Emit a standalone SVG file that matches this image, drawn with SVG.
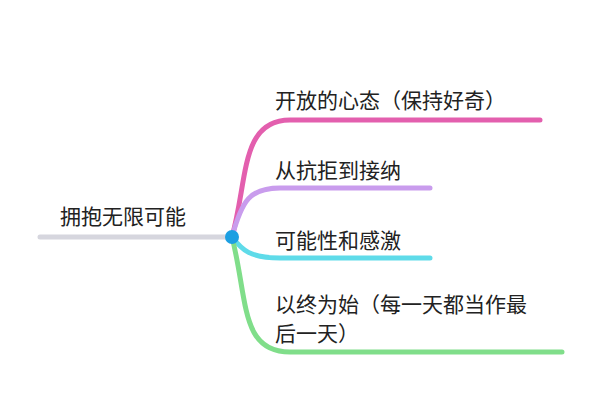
<svg xmlns="http://www.w3.org/2000/svg" width="600" height="400" viewBox="0 0 600 400">
<style>
text{font-family:"Noto Sans CJK SC",sans-serif;font-size:21px;fill:#222}
.b{fill:none;stroke-width:5;stroke-linecap:round}
</style>
<rect width="600" height="400" fill="#fff"/>
<g id="connectors">
<path class="b" stroke="#d6d6de" d="M40 237H232"/>
<path class="b" stroke="#e35fae" d="M232 237C248 180 240 120 290 120H540"/>
<path class="b" stroke="#c99ced" d="M232 237C242 200 250 188 280 188H430"/>
<path class="b" stroke="#5fdbe9" d="M232 237C242 250 250 258 280 258H430"/>
<path class="b" stroke="#80de8a" d="M232 237C248 300 240 352 290 352H562"/>
</g>
<g id="root"><text x="60" y="224" font-size="24">拥抱无限可能</text><circle cx="232" cy="237" r="7" fill="#1c9fe2"/></g>
<g id="n1"><text x="275" y="108">开放的心态（保持好奇）</text></g>
<g id="n2"><text x="275" y="178">从抗拒到接纳</text></g>
<g id="n3"><text x="275" y="248">可能性和感激</text></g>
<g id="n4"><text x="275" y="312">以终为始（每一天都当作最</text><text x="275" y="341">后一天）</text></g>
</svg>
